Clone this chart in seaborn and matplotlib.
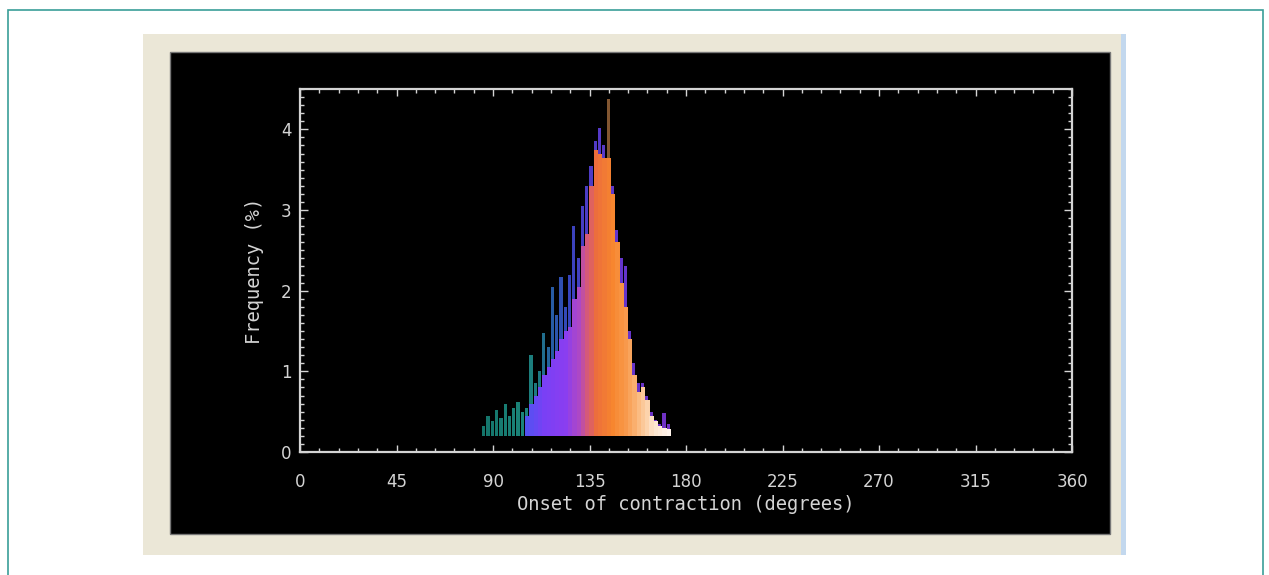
import matplotlib
matplotlib.use("Agg")
import matplotlib.pyplot as plt
from matplotlib.patches import Rectangle
from matplotlib.ticker import MultipleLocator
from matplotlib.colors import LinearSegmentedColormap
import numpy as np
import seaborn as sns

# ---------------- data ----------------
bin_centers = [86, 88, 90, 92, 94, 96, 98, 100, 102, 104, 106, 108, 110, 112, 114,
               116, 118, 120, 122, 124, 126, 128, 130, 132, 134, 136, 138, 140,
               142, 144, 146, 148, 150, 152, 154, 156, 158, 160, 162, 164, 166,
               168, 170, 172]
fill_freq = [0, 0, 0, 0, 0, 0, 0, 0, 0, 0, 0.45, 0.60, 0.70, 0.80, 0.95,
             1.05, 1.15, 1.25, 1.40, 1.50, 1.55, 1.90, 2.05, 2.55, 2.70, 3.30, 3.75, 3.70,
             3.64, 3.64, 3.20, 2.60, 2.10, 1.80, 1.40, 0.95, 0.75, 0.80, 0.65, 0.45, 0.38,
             0.32, 0.30, 0.28]
spike_freq = [0.32, 0.45, 0.38, 0.52, 0.42, 0.60, 0.45, 0.55, 0.62, 0.50, 0.55, 1.20, 0.85, 1.00, 1.47,
              1.30, 2.05, 1.70, 2.17, 1.80, 2.20, 2.80, 2.40, 3.05, 3.30, 3.55, 3.85, 4.02,
              3.80, 4.38, 3.30, 2.75, 2.40, 2.30, 1.50, 1.10, 0.85, 0.85, 0.70, 0.50, 0.40,
              0.35, 0.48, 0.35]
baseline = 0.2
x_ticks = [0, 45, 90, 135, 180, 225, 270, 315, 360]
y_ticks = [0, 1, 2, 3, 4]
x_label = "Onset of contraction (degrees)"
y_label = "Frequency (%)"

# ---------------- figure ----------------
sns.set_style("dark")
plt.rcParams['font.family'] = ['DejaVu Sans']
W, H = 1269, 575
fig = plt.figure(figsize=(W / 100, H / 100), dpi=100)
fig.patch.set_facecolor("white")


def px_rect(x0, y0, x1, y1, **kw):
    r = Rectangle((x0 / W, 1 - y1 / H), (x1 - x0) / W, (y1 - y0) / H,
                  transform=fig.transFigure, zorder=-10, **kw)
    fig.patches.append(r)
    return r


# teal outer frame (open at bottom)
px_rect(8, 10, 1263, 600, facecolor="none", edgecolor="#3a9e98", linewidth=1.2)
# beige window panel
px_rect(143, 34, 1125, 555, facecolor="#ebe7d7", edgecolor="none")
px_rect(1121, 34, 1126, 555, facecolor="#c3d8ee", edgecolor="none")
# black draw area
px_rect(170, 52, 1110, 534, facecolor="black", edgecolor="#777777", linewidth=1.0)

ax = fig.add_axes([300 / W, 1 - 452 / H, (1072 - 300) / W, (452 - 89) / H])
ax.set_facecolor("black")
ax.patch.set_alpha(0)

fg = "#d4d4d4"


def degree_cmap(stops, lo=84.0, hi=174.0):
    return LinearSegmentedColormap.from_list(
        "c", [((d - lo) / (hi - lo), c) for d, c in stops])


fill_cmap = degree_cmap([(84, "#4a55f0"), (104, "#4a55f0"), (114, "#7a40f5"),
                         (124, "#8a3ef0"), (130, "#ae48c4"), (134, "#d4587c"),
                         (138, "#ec6e3c"), (146, "#f7862e"), (153, "#f89c50"),
                         (159, "#fbc18c"), (165, "#fde4cc"), (174, "#fff8f2")])
spike_cmap = degree_cmap([(84, "#157a70"), (104, "#1d8c80"), (112, "#1f7f8a"),
                          (118, "#2a60b0"), (126, "#3a48c8"), (134, "#5040d0"),
                          (150, "#6a38d8"), (174, "#7a34d0")])

centers = np.array(bin_centers, dtype=float)
spikes = np.array(spike_freq)
fills = np.array(fill_freq)
n = len(centers)
pos = (centers - 84.0) / 90.0

# spikes behind
for i in range(n):
    c = spike_cmap(pos[i])
    if spikes[i] > 4.2:
        c = "#8a5c34"
    ax.bar(centers[i] - 0.3, spikes[i] - baseline, bottom=baseline, width=1.5,
           color=c, linewidth=0, alpha=0.95, zorder=2)
# gradient fill on top
for i in range(n):
    if fills[i] > baseline:
        ax.bar(centers[i], fills[i] - baseline, bottom=baseline, width=2.05,
               color=fill_cmap(pos[i]), linewidth=0, zorder=3)

ax.set_xlim(0, 360)
ax.set_ylim(0, 4.5)
ax.set_xticks(x_ticks)
ax.set_yticks(y_ticks)
ax.xaxis.set_minor_locator(MultipleLocator(9))
ax.yaxis.set_minor_locator(MultipleLocator(0.1))
ax.grid(False)
for s in ax.spines.values():
    s.set_visible(True)
    s.set_color(fg)
    s.set_linewidth(1.6)
ax.tick_params(which="both", direction="in", colors=fg, top=True, right=True,
               bottom=True, left=True, labelsize=12, width=1.0)
ax.tick_params(axis="y", which="major", length=6, pad=6)
ax.tick_params(axis="x", which="major", length=5, pad=15)
ax.tick_params(which="minor", length=3)
for lab in ax.get_xticklabels() + ax.get_yticklabels():
    lab.set_color(fg)
ax.set_xlabel(x_label, color=fg, fontsize=13.5, family=["DejaVu Sans Mono"], labelpad=3)
ax.set_ylabel(y_label, color=fg, fontsize=13.5, family=["DejaVu Sans Mono"], labelpad=12)

fig.savefig("out.png", dpi=100, facecolor="white")
